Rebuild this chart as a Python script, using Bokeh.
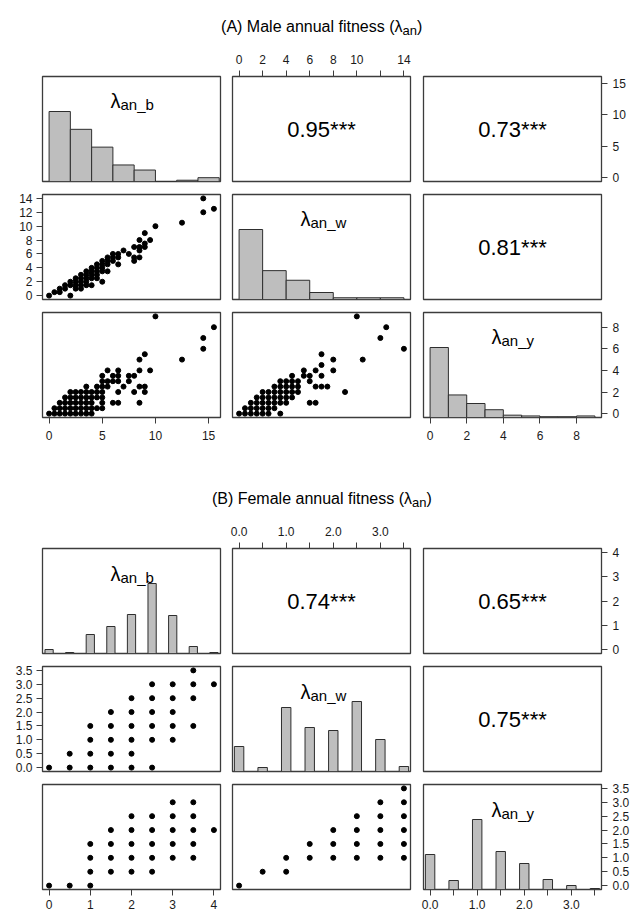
from bokeh.plotting import figure
from bokeh.layouts import column, row
from bokeh.models import Range1d, LinearAxis, FixedTicker
from bokeh.core.properties import value
from bokeh.embed import file_html
from bokeh.resources import INLINE

# ======================= DATA =======================
# ---- Male ----
male_b_breaks = [0, 2, 4, 6, 8, 10, 12, 14, 16]
male_b_counts = [55, 41, 27, 13, 9, 0, 1, 3]
male_w_breaks = [0, 2, 4, 6, 8, 10, 12, 14]
male_w_counts = [80, 33, 22, 8, 2, 2, 2]
male_y_breaks = [0, 1, 2, 3, 4, 5, 6, 7, 8, 9]
male_y_counts = [90, 29, 18, 10, 3, 2, 1, 1, 2]

# (lambda_an_b, lambda_an_w)
male_b_w = [(0, 0), (0.5, 0.5), (1, 0.5), (1, 1), (1.5, 1), (1.5, 1.5),
            (2, 0), (2, 1.5), (2, 2), (2.5, 1), (2.5, 1.5), (2.5, 2), (2.5, 2.5),
            (3, 1), (3, 1.5), (3, 2), (3, 2.5), (3, 3),
            (3.5, 1.5), (3.5, 2), (3.5, 2.5), (3.5, 3), (3.5, 3.5),
            (4, 1.5), (4, 2.5), (4, 3), (4, 3.5), (4, 4),
            (4.5, 2.5), (4.5, 3), (4.5, 3.5), (4.5, 4), (4.5, 4.5),
            (5, 2), (5, 3.5), (5, 4), (5, 4.5), (5, 5),
            (5.5, 3.5), (5.5, 4.5), (5.5, 5), (5.5, 5.5),
            (6, 5), (6, 5.5), (6, 6), (6.5, 4.5), (6.5, 5.5), (6.5, 6),
            (7, 6.5), (7.5, 6), (8, 5), (8, 5.5), (8, 7),
            (8.5, 5.5), (8.5, 6.5), (8.5, 7), (8.5, 8),
            (9, 7), (9, 7.5), (9, 9), (9.5, 8), (10, 10), (12.5, 10.5),
            (14.5, 12), (14.5, 14), (15.5, 12.5)]
# (lambda_an_b, lambda_an_y)
male_b_y = [(0, 0), (0.5, 0), (1, 0), (1.5, 0), (2, 0), (2.5, 0), (3, 0), (3.5, 0), (4, 0),
            (0.5, 0.5), (1, 0.5), (1.5, 0.5), (2, 0.5), (2.5, 0.5), (3, 0.5), (3.5, 0.5), (4, 0.5), (4.5, 0.5), (5, 0.5),
            (1, 1), (1.5, 1), (2, 1), (2.5, 1), (3, 1), (3.5, 1), (4, 1), (5, 1), (6, 1), (6.5, 1), (8.5, 1),
            (1.5, 1.5), (2, 1.5), (2.5, 1.5), (3, 1.5), (3.5, 1.5), (4, 1.5), (4.5, 1.5), (5, 1.5),
            (2, 2), (2.5, 2), (3, 2), (3.5, 2), (4, 2), (4.5, 2), (5, 2), (6.5, 2), (8, 2), (9, 2),
            (3.5, 2.5), (4.5, 2.5), (5, 2.5), (5.5, 2.5), (7, 2.5), (8.5, 2.5), (9, 2.5),
            (5, 3), (5.5, 3), (6, 3), (6.5, 3), (7.5, 3),
            (5, 3.5), (6, 3.5), (6.5, 3.5), (7.5, 3.5), (8, 3.5),
            (5.5, 4), (6.5, 4), (8.5, 4), (9.5, 4),
            (8.5, 5), (12.5, 5), (9, 5.5), (14.5, 6), (14.5, 7), (15.5, 8), (10, 9)]
# (lambda_an_w, lambda_an_y)
male_w_y = [(0, 0), (0.5, 0), (1, 0), (1.5, 0), (2, 0), (2.5, 0), (3.5, 0),
            (0.5, 0.5), (1, 0.5), (1.5, 0.5), (2, 0.5), (2.5, 0.5), (3, 0.5),
            (1, 1), (1.5, 1), (2, 1), (2.5, 1), (3, 1), (3.5, 1), (4, 1), (6, 1), (6.5, 1),
            (1.5, 1.5), (2, 1.5), (2.5, 1.5), (3, 1.5), (3.5, 1.5), (4, 1.5), (4.5, 1.5),
            (2, 2), (2.5, 2), (3, 2), (3.5, 2), (4, 2), (4.5, 2), (5, 2), (9, 2),
            (3, 2.5), (3.5, 2.5), (4, 2.5), (4.5, 2.5), (5, 2.5), (6.5, 2.5), (7, 2.5), (7.5, 2.5),
            (3.5, 3), (4, 3), (4.5, 3), (5, 3), (6, 3),
            (4.5, 3.5), (5.5, 3.5), (6, 3.5), (7, 3.5),
            (5.5, 4), (6.5, 4), (8, 4), (7, 4.5), (8, 5), (10.5, 5), (7, 5.5),
            (14, 6), (12, 7), (12.5, 8), (10, 9)]
male_corr = [0.95, 0.73, 0.81]          # (b,w), (b,y), (w,y)
male_sig = ["***", "***", "***"]

# ---- Female ----
female_b_vals = [0, 0.5, 1, 1.5, 2, 2.5, 3, 3.5, 4]
female_b_counts = [4, 1, 19, 27, 39, 70, 38, 7, 1]
female_w_vals = [0, 0.5, 1, 1.5, 2, 2.5, 3, 3.5]
female_w_counts = [25, 4, 64, 44, 41, 70, 32, 5]
female_y_vals = [0, 0.5, 1, 1.5, 2, 2.5, 3, 3.5]
female_y_counts = [35, 9, 70, 38, 26, 10, 4, 1]

female_b_w = [(0, 0), (0.5, 0), (1, 0), (1.5, 0), (2, 0), (2.5, 0),
              (0.5, 0.5), (1, 0.5), (1.5, 0.5), (2, 0.5),
              (1, 1), (1.5, 1), (2, 1), (2.5, 1), (3, 1),
              (1, 1.5), (1.5, 1.5), (2, 1.5), (2.5, 1.5), (3, 1.5), (3.5, 1.5),
              (1.5, 2), (2, 2), (2.5, 2), (3, 2),
              (2, 2.5), (2.5, 2.5), (3, 2.5), (3.5, 2.5),
              (2.5, 3), (3, 3), (3.5, 3), (4, 3), (3.5, 3.5)]
female_b_y = [(0, 0), (0.5, 0), (1, 0),
              (1, 0.5), (1.5, 0.5), (2, 0.5), (2.5, 0.5),
              (1, 1), (1.5, 1), (2, 1), (2.5, 1), (3, 1), (3.5, 1),
              (1, 1.5), (1.5, 1.5), (2, 1.5), (2.5, 1.5), (3, 1.5), (3.5, 1.5),
              (1.5, 2), (2, 2), (2.5, 2), (3, 2), (3.5, 2), (4, 2),
              (2, 2.5), (2.5, 2.5), (3, 2.5), (3.5, 2.5),
              (3, 3), (3.5, 3)]
female_w_y = [(0, 0), (0.5, 0.5), (1, 0.5),
              (1, 1), (1.5, 1), (2, 1), (2.5, 1), (3, 1), (3.5, 1),
              (1.5, 1.5), (2, 1.5), (2.5, 1.5), (3, 1.5), (3.5, 1.5),
              (2, 2), (2.5, 2), (3, 2), (3.5, 2),
              (2.5, 2.5), (3, 2.5), (3.5, 2.5),
              (3, 3), (3.5, 3), (3.5, 3.5)]
female_corr = [0.74, 0.65, 0.75]
female_sig = ["***", "***", "***"]

# ---- ticks / labels ----
male_b_ticks = [0, 5, 10, 15]
male_b_labels = ["0", "5", "10", "15"]
male_w_ticks = [0, 2, 4, 6, 8, 10, 12, 14]
male_w_top_labels = ["0", "2", "4", "6", "8", "10", "", "14"]
male_w_left_labels = ["0", "2", "4", "6", "8", "10", "12", "14"]
male_y_ticks = [0, 2, 4, 6, 8]
male_y_labels = ["0", "2", "4", "6", "8"]
female_b_ticks = [0, 1, 2, 3, 4]
female_b_labels = ["0", "1", "2", "3", "4"]
female_half_ticks = [0, 0.5, 1, 1.5, 2, 2.5, 3, 3.5]
female_half_sparse = ["0.0", "", "1.0", "", "2.0", "", "3.0", ""]
female_half_full = ["0.0", "0.5", "1.0", "1.5", "2.0", "2.5", "3.0", "3.5"]

var_subs = ["an_b", "an_w", "an_y"]

# ======================= STYLE =======================
FONT = "Liberation Sans"
FW, FH = 178, 105
BOX = "#3c3c3c"
HIST_FILL = "#bebebe"
HIST_LINE = "#2e2e2e"
COLB = [(42, 6), (6, 6), (7, 30)]       # left/right borders per column
FEMALE_BAR_W = 0.2


def ext(vals):
    lo, hi = min(vals), max(vals)
    d = 0.04 * (hi - lo)
    return (lo - d, hi + d)


def panel(xr, yr, col, top, bottom):
    bl, br = COLB[col]
    p = figure(frame_width=FW, frame_height=FH,
               x_range=Range1d(*xr), y_range=Range1d(*yr),
               x_axis_location=None, y_axis_location=None,
               output_backend="svg", toolbar_location=None,
               min_border_left=bl, min_border_right=br,
               min_border_top=top, min_border_bottom=bottom)
    p.xgrid.visible = False
    p.ygrid.visible = False
    p.outline_line_color = BOX
    p.outline_line_width = 1.3
    p.outline_line_alpha = 1.0
    p.background_fill_color = "white"
    p.border_fill_color = "white"
    return p


def add_axis(p, side, ticks, labels, standoff, tick_out=6):
    ax = LinearAxis(ticker=FixedTicker(ticks=ticks, minor_ticks=[]),
                    major_label_overrides={float(t): l for t, l in zip(ticks, labels)})
    ax.axis_line_color = None
    ax.major_tick_line_color = BOX
    ax.major_tick_line_width = 1
    ax.major_tick_out = tick_out
    ax.major_tick_in = 0
    ax.minor_tick_line_color = None
    ax.major_label_text_font = FONT
    ax.major_label_text_font_size = "12px"
    ax.major_label_text_color = "#1a1a1a"
    ax.major_label_standoff = standoff
    p.add_layout(ax, side)


def scatter(p, pts):
    xs = [a for a, b in pts]
    ys = [b for a, b in pts]
    p.scatter(xs, ys, size=5, marker="circle", fill_color="black", line_color="black")


def corr_text(p, xr, yr, r, sig):
    p.text(x=[(xr[0] + xr[1]) / 2], y=[(yr[0] + yr[1]) / 2], text=["%.2f%s" % (r, sig)],
           text_font=value(FONT), text_font_size="22px", text_color="black",
           text_align="center", text_baseline="middle")


def diag_label(p, xr, sub, rname, yoff):
    xm = (xr[0] + xr[1]) / 2
    p.text(x=[xm], y=[1.5], text=["λ"], text_font=value(FONT), text_font_size="20px",
           text_color="black", text_align="right", text_baseline="alphabetic",
           x_offset=-11, y_offset=yoff, y_range_name=rname)
    p.text(x=[xm], y=[1.5], text=[sub], text_font=value(FONT), text_font_size="15px",
           text_color="black", text_align="left", text_baseline="alphabetic",
           x_offset=-11, y_offset=yoff + 3.5, y_range_name=rname)


def hist_bars(p, lefts, rights, counts, rname):
    m = float(max(counts))
    p.quad(left=lefts, right=rights, bottom=[0] * len(counts), top=[c / m for c in counts],
           fill_color=HIST_FILL, line_color=HIST_LINE, line_width=1, y_range_name=rname)


def title_fig(h, main, sub, X, base):
    p = figure(width=631, height=h, x_range=Range1d(0, 631), y_range=Range1d(h, 0),
               x_axis_location=None, y_axis_location=None, output_backend="svg",
               toolbar_location=None, min_border=0)
    p.xgrid.visible = False
    p.ygrid.visible = False
    p.outline_line_color = None
    p.text(x=[X], y=[base], text=[main], text_font=value(FONT), text_font_size="16px",
           text_color="black", text_align="right", text_baseline="alphabetic")
    p.text(x=[X], y=[base + 3.5], text=[sub], text_font=value(FONT), text_font_size="13px",
           text_color="black", text_align="left", text_baseline="alphabetic")
    p.text(x=[X + 14.5], y=[base], text=[")"], text_font=value(FONT), text_font_size="16px",
           text_color="black", text_align="left", text_baseline="alphabetic")
    return p


def block(b_w, b_y, w_y, hists, corr, sig, ticks, rows_tb, label_yoff):
    rb = ext([a for a, _ in b_w] + [a for a, _ in b_y])
    rw = ext([b for _, b in b_w] + [a for a, _ in w_y])
    ry = ext([b for _, b in b_y] + [b for _, b in w_y])
    (t1, b1), (t2, b2), (t3, b3) = rows_tb

    # row 1
    p11 = panel(rb, (0, 1.5), 0, t1, b1)
    hist_bars(p11, *hists[0], "default")
    diag_label(p11, rb, var_subs[0], "default", label_yoff)
    p12 = panel(rw, rb, 1, t1, b1)
    corr_text(p12, rw, rb, corr[0], sig[0])
    add_axis(p12, "above", ticks["w"], ticks["w_top"], 7)
    p13 = panel(ry, rb, 2, t1, b1)
    corr_text(p13, ry, rb, corr[1], sig[1])
    add_axis(p13, "right", ticks["b"], ticks["b_lab"], 5)

    # row 2
    p21 = panel(rb, rw, 0, t2, b2)
    scatter(p21, b_w)
    add_axis(p21, "left", ticks["w"], ticks["w_left"], 4)
    p22 = panel(rw, (0, 1.5), 1, t2, b2)
    hist_bars(p22, *hists[1], "default")
    diag_label(p22, rw, var_subs[1], "default", label_yoff)
    p23 = panel(ry, rw, 2, t2, b2)
    corr_text(p23, ry, rw, corr[2], sig[2])

    # row 3
    p31 = panel(rb, ry, 0, t3, b3)
    scatter(p31, b_y)
    add_axis(p31, "below", ticks["b"], ticks["b_lab"], ticks["bot_standoff"])
    p32 = panel(rw, ry, 1, t3, b3)
    scatter(p32, w_y)
    p33 = panel(ry, ry, 2, t3, b3)
    p33.extra_y_ranges = {"hist": Range1d(0, 1.5)}
    hist_bars(p33, *hists[2], "hist")
    diag_label(p33, ry, var_subs[2], "hist", label_yoff)
    add_axis(p33, "below", ticks["y"], ticks["y_bot"], ticks["bot_standoff"])
    add_axis(p33, "right", ticks["y"], ticks["y_right"], 5)

    return column(row(p11, p12, p13), row(p21, p22, p23), row(p31, p32, p33))


# ---------------- male block ----------------
male_hists = [
    (male_b_breaks[:-1], male_b_breaks[1:], male_b_counts),
    (male_w_breaks[:-1], male_w_breaks[1:], male_w_counts),
    (male_y_breaks[:-1], male_y_breaks[1:], male_y_counts),
]
male_ticks = dict(b=male_b_ticks, b_lab=male_b_labels, w=male_w_ticks,
                  w_top=male_w_top_labels, w_left=male_w_left_labels,
                  y=male_y_ticks, y_bot=male_y_labels, y_right=male_y_labels, bot_standoff=7)
male = block(male_b_w, male_b_y, male_w_y, male_hists, male_corr, male_sig, male_ticks,
             [(28, 6), (7, 6), (7, 28)], 24)


def centered_bins(vals, counts):
    return ([v - FEMALE_BAR_W / 2 for v in vals], [v + FEMALE_BAR_W / 2 for v in vals], counts)


female_hists = [
    centered_bins(female_b_vals, female_b_counts),
    centered_bins(female_w_vals, female_w_counts),
    centered_bins(female_y_vals, female_y_counts),
]
female_ticks = dict(b=female_b_ticks, b_lab=female_b_labels, w=female_half_ticks,
                    w_top=female_half_sparse, w_left=female_half_full,
                    y=female_half_ticks, y_bot=female_half_sparse, y_right=female_half_full,
                    bot_standoff=4)
female = block(female_b_w, female_b_y, female_w_y, female_hists, female_corr, female_sig,
               female_ticks, [(28, 6), (7, 6), (7, 25)], 25)

t_male = title_fig(48, "(A) Male annual fitness (λ", "an", 402, 26)
t_female = title_fig(75, "(B) Female annual fitness (λ", "an", 411.5, 53)

page = column(t_male, male, t_female, female)
open("out.html", "w").write(file_html(page, INLINE))
